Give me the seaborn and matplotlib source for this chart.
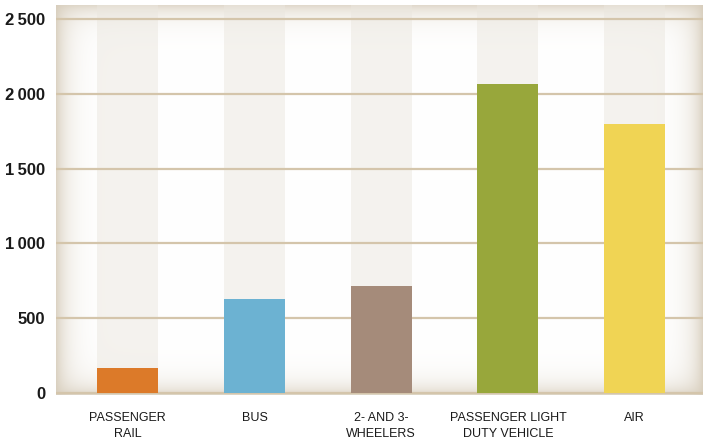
"""
Bar chart: passenger transport modes, with a beige inner-shadow panel.
Output: out.png (703x440)
"""

import numpy as np
import pandas as pd
import matplotlib
matplotlib.use("Agg")
import matplotlib.pyplot as plt
import seaborn as sns

# ── data ────────────────────────────────────────────────────────────────────
modes  = ["PASSENGER\nRAIL", "BUS", "2- AND 3-\nWHEELERS",
          "PASSENGER LIGHT\nDUTY VEHICLE", "AIR"]
values = [167, 628, 716, 2066, 1800]
colors = ["#dc7a29", "#6cb2d2", "#a58b7a", "#98a73b", "#f0d454"]
yticks = [0, 500, 1000, 1500, 2000, 2500]

# ── stil ────────────────────────────────────────────────────────────────────
sns.set_theme(style="white")
plt.rcParams["font.family"] = ["Liberation Sans", "DejaVu Sans"]

GRID_CLR   = "#d4c5ab"
COLUMN_CLR = "#ebe7df"
SHADOW_CLR = np.array([0.84, 0.80, 0.73])
YMIN, YMAX = -13, 2594

df = pd.DataFrame({"mode": modes, "value": values})
df_bg = pd.DataFrame({"mode": modes, "value": [YMAX] * len(modes)})

fig = plt.figure(figsize=(7.03, 4.40), dpi=100)
ax = fig.add_axes([0.080, 0.102, 0.920, 0.887])

# inner shadow panel
h, w = 390, 647
yy, xx = np.mgrid[0:h, 0:w]
dx = np.minimum(xx, w - 1 - xx)
dy = np.minimum(yy, h - 1 - yy)
a = 0.85 * np.exp(-dx / 12.0)
b = 0.80 * np.exp(-dy / 11.0)
shade = 1 - (1 - a) * (1 - b)
img = 1 - shade[..., None] * (1 - SHADOW_CLR)
ax.imshow(img, extent=(0, 1, 0, 1), transform=ax.transAxes,
          aspect="auto", zorder=0, interpolation="bilinear")

# background columns
sns.barplot(data=df_bg, x="mode", y="value", color=COLUMN_CLR, width=0.48,
            alpha=0.5, linewidth=0, ax=ax, zorder=1, saturation=1)

# grid
for t in yticks:
    ax.axhline(t, color=GRID_CLR, lw=1.6, zorder=2)

# bars
sns.barplot(data=df, x="mode", y="value", hue="mode", palette=colors,
            width=0.48, saturation=1, linewidth=0, legend=False, ax=ax,
            zorder=3)

ax.set_xlim(-0.565, 4.54)
ax.set_ylim(YMIN, YMAX)
ax.set_yticks(yticks)
ax.set_yticklabels([f"{t:,}".replace(",", "\u2009") for t in yticks],
                   fontsize=12, fontweight="bold", color="#1a1a1a")
ax.tick_params(axis="y", length=0, pad=8)
ax.tick_params(axis="x", length=0, pad=12)
for lbl in ax.get_xticklabels():
    lbl.set_fontsize(9)
    lbl.set_color("#1a1a1a")
    lbl.set_linespacing(1.5)
ax.set_xlabel("")
ax.set_ylabel("")
for s in ax.spines.values():
    s.set_visible(False)

fig.savefig("out.png", dpi=100)
